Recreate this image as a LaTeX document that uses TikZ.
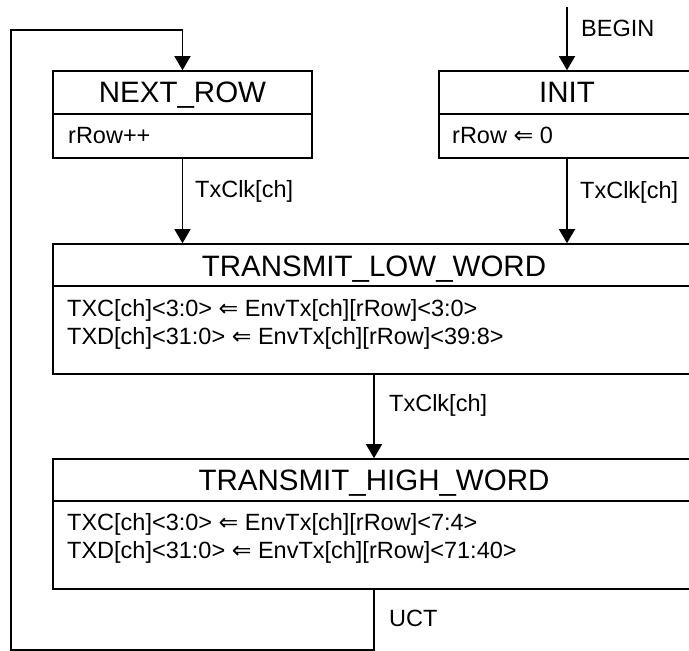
\documentclass[tikz,border=0pt]{standalone}
\usepackage{fontspec}
\setmainfont{Liberation Sans}
\newfontfamily\symfont{DejaVu Sans}
\usetikzlibrary{arrows.meta}
\newcommand{\lar}{{\symfont\char"21D0}}
\tikzset{
  box/.style={draw, line width=1.6pt, rectangle, inner sep=0pt},
  ttl/.style={inner sep=0pt, anchor=base, font=\fontsize{29.5}{34}\selectfont},
  bdy/.style={inner sep=0pt, anchor=base west, font=\fontsize{23.5}{28}\selectfont},
  lbl/.style={inner sep=0pt, anchor=base west, font=\fontsize{23.5}{28}\selectfont},
  divl/.style={line width=1.6pt},
  arr/.style={line width=1.4pt, -{Triangle[width=16pt,length=14pt]}},
  conn/.style={line width=1.4pt}
}
\begin{document}
\begin{tikzpicture}[x=1pt,y=-1pt]
\useasboundingbox (0,0) rectangle (689,651);
\clip (0,0) rectangle (689,651);
% boxes
\node[box, minimum width=259pt, minimum height=87pt] (nr) at (182.5,114.5) {};
\node[box, minimum width=256pt, minimum height=87pt] (init) at (567,114.5) {};
\node[box, minimum width=642pt, minimum height=130pt] (tlw) at (374,309) {};
\node[box, minimum width=642pt, minimum height=130pt] (thw) at (374,524) {};
% dividers
\draw[divl] (nr.west |- 0,114) -- (nr.east |- 0,114);
\draw[divl] (init.west |- 0,114) -- (init.east |- 0,114);
\draw[divl] (tlw.west |- 0,286) -- (tlw.east |- 0,286);
\draw[divl] (thw.west |- 0,501) -- (thw.east |- 0,501);
% titles
\node[ttl] (nrT) at (182.5,102) {NEXT\_ROW};
\node[ttl] (initT) at (567,102) {INIT};
\node[ttl] (tlwT) at (374,276) {TRANSMIT\_LOW\_WORD};
\node[ttl] (thwT) at (374,490) {TRANSMIT\_HIGH\_WORD};
% bodies
\node[bdy] (nrB) at (68,143) {rRow++};
\node[bdy] (initB) at (452,143) {rRow \lar\ 0};
\node[bdy] (tlwB1) at (67,316.5) {TXC[ch]<3:0> \lar\ EnvTx[ch][rRow]<3:0>};
\node[bdy] (tlwB2) at (67,344.5) {TXD[ch]<31:0> \lar\ EnvTx[ch][rRow]<39:8>};
\node[bdy] (thwB1) at (67,530.5) {TXC[ch]<3:0> \lar\ EnvTx[ch][rRow]<7:4>};
\node[bdy] (thwB2) at (67,558.5) {TXD[ch]<31:0> \lar\ EnvTx[ch][rRow]<71:40>};
% connector labels
\node[lbl] (lBegin) at (581,36.5) {BEGIN};
\node[lbl] (lNr) at (195,197) {TxClk[ch]};
\node[lbl] (lInit) at (580,198) {TxClk[ch]};
\node[lbl] (lTlw) at (389,411.5) {TxClk[ch]};
\node[lbl] (lUct) at (389,626.5) {UCT};
% connectors
\coordinate (bstart) at (567,7);
\coordinate (lb) at (11,650);
\coordinate (lt) at (11,30);
\draw[arr] (bstart) -- (init.north);
\draw[arr] (nr.south) -- (nr.south |- tlw.north);
\draw[arr] (init.south) -- (init.south |- tlw.north);
\draw[arr] (tlw.south) -- (thw.north);
\draw[arr] (thw.south) |- (lb) -- (lt) -| (nr.north);
\end{tikzpicture}
\end{document}
